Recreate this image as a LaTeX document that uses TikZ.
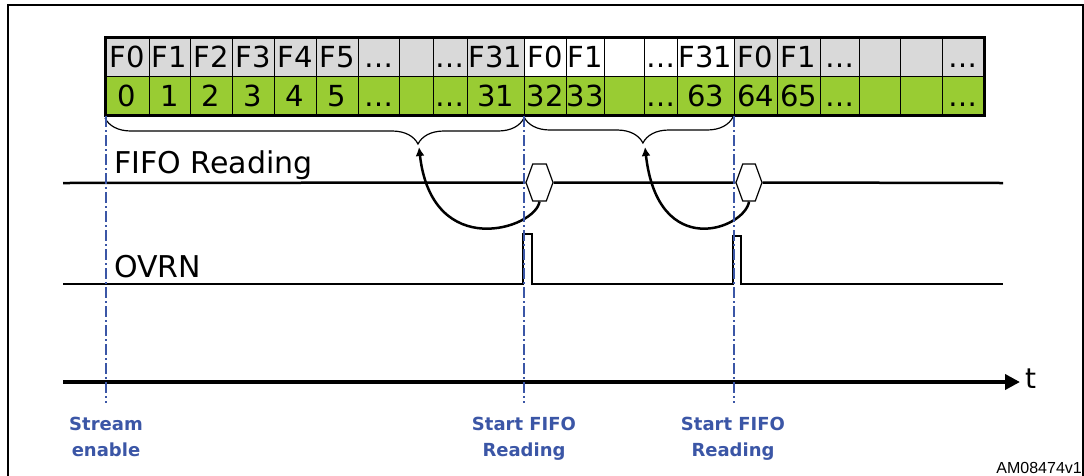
\documentclass[tikz,border=0pt]{standalone}
\usepackage{fontspec}
\setmainfont{DejaVu Sans}
\newfontfamily\arialfont{Liberation Sans}
\usetikzlibrary{positioning, arrows.meta, shapes.symbols, decorations.pathreplacing}
\definecolor{stblue}{RGB}{59,86,166}
\definecolor{cellgray}{RGB}{217,217,217}
\definecolor{cellgreen}{RGB}{153,204,51}
\newcommand{\fsz}[1]{\fontsize{#1}{#1}\selectfont}

\tikzset{
  cell/.style={draw=black, line width=1pt, inner sep=0pt, outer sep=0pt, minimum height=39pt, text height=21pt, text depth=0pt, font=\fsz{29}},
  wave/.style={line width=2.5pt},
  stamp/.style={draw, line width=1.2pt, shape=signal, signal to=east and west, signal pointer angle=140, minimum width=27pt, minimum height=37pt, inner sep=0pt, fill=white},
  guide/.style={stblue, line width=2pt, dash pattern=on 11pt off 3pt on 2pt off 3pt},
  evt/.style={text=stblue, font=\bfseries\fontsize{18}{26}\selectfont, align=center, anchor=north, inner sep=0pt},
  grp/.style={decorate, decoration={brace, mirror, amplitude=26pt, aspect=#1}, line width=1.2pt},
}

\begin{document}
\begin{tikzpicture}[x=1pt, y=-1pt]
\useasboundingbox (0,0) rectangle (1084,475);
\draw[line width=2pt] (8,476) |- (1083,5) -- (1083,476);

% FIFO cells
\foreach \xa/\xb/\ft/\nb/\fc [count=\i] in {
  105/149/F0/0/cellgray, 149/190/F1/1/cellgray, 190/232/F2/2/cellgray, 232/274/F3/3/cellgray,
  274/316/F4/4/cellgray, 316/358/F5/5/cellgray, 358/399/…/…/cellgray, 399/433/{}/{}/cellgray,
  433/467/…/…/cellgray, 467/524/F31/31/cellgray,
  524/566/F0/32/white, 566/604/F1/33/white, 604/644/{}/{}/white, 644/677/…/…/white, 677/734/F31/63/white,
  734/777/F0/64/cellgray, 777/820/F1/65/cellgray, 820/859/…/…/cellgray, 859/900/{}/{}/cellgray,
  900/942/{}/{}/cellgray, 942/984/…/…/cellgray}
{
  \node[cell, fill=\fc, minimum width={(\xb-\xa)*1pt}] (f\i) at ({(\xa+\xb)/2},56.5) {\ft};
  \node[cell, fill=cellgreen, minimum width={(\xb-\xa)*1pt}] (n\i) at ({(\xa+\xb)/2},95.5) {\nb};
}
\draw[line width=3pt] (f1.north west) rectangle (n21.south east);

\draw[grp=0.747] (105,118) -- (524,118);
\draw[grp=0.569] (524,117) -- (733,117);
\coordinate (tip1) at (419,147);
\coordinate (tip2) at (645,147);

% signals
\node[font=\fsz{30}, anchor=base west, inner sep=0pt] (fifo) at (114,173) {FIFO Reading};
\node[font=\fsz{30}, anchor=base west, inner sep=0pt] (ovrn) at (114,277) {OVRN};
\node[stamp] (rd1) at (539.5,182.5) {};
\node[stamp, minimum width=26pt] (rd2) at (749,182.5) {};
\draw[wave] (63,183) -- (rd1.west) (rd1.east) -- (rd2.west) (rd2.east) -- (1003,183);
\draw[wave] (63,284) -- (523,284) |- (532,234) -- (532,284) -- (733,284) |- (741,236) -- (741,284) -- (1003,284);

\draw[line width=2.5pt, -{Latex[length=9pt,width=9pt]}] (rd1.south) .. controls +(-4,27) and +(13,115) .. (tip1);
\draw[line width=2.5pt, -{Latex[length=9pt,width=9pt]}] (rd2.south) .. controls +(-4,27) and +(13,115) .. (tip2);

% time axis
\draw[line width=4pt, -{Triangle[length=15pt,width=15pt]}] (63,382) -- (1020,382);
\node[font=\fsz{28}, anchor=base west, inner sep=0pt] (t) at (1025,388) {t};

\foreach \gx in {106,524,733.5}
  \draw[guide] (\gx,116) -- (\gx,403);

\node[evt] (se) at (106,417) {Stream\\enable};
\node[evt] (sr1) at (524,417) {Start FIFO\\Reading};
\node[evt] (sr2) at (733,417) {Start FIFO\\Reading};
\node[font=\arialfont\fsz{16}, anchor=base east, inner sep=0pt] (ref) at (1082,473) {AM08474v1};
\end{tikzpicture}
\end{document}
